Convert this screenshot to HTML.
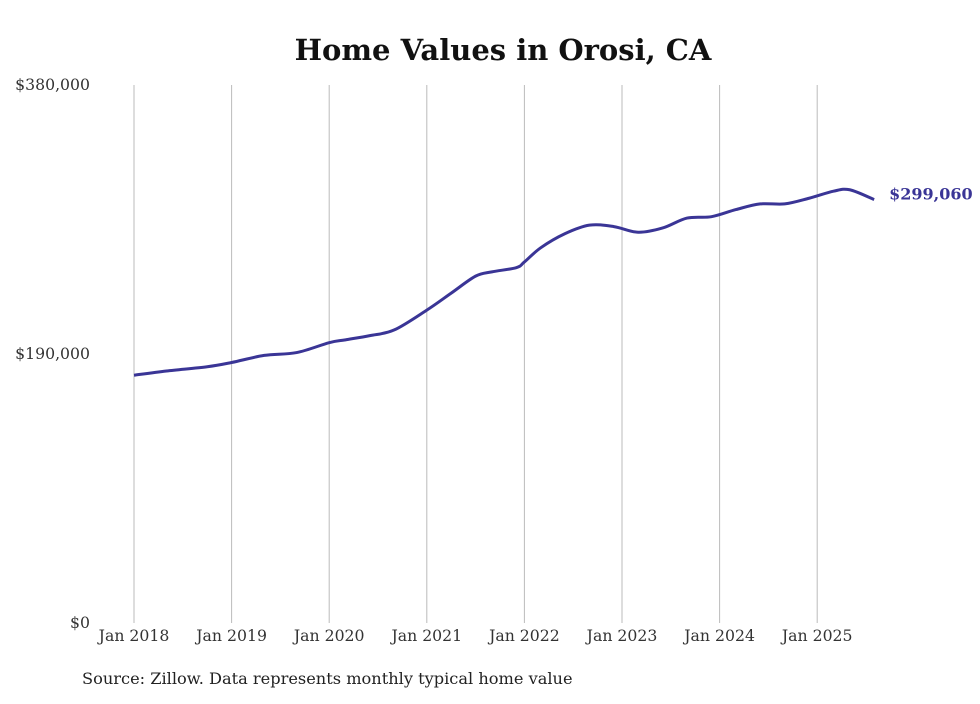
<!DOCTYPE html>
<html><head><meta charset="utf-8"><style>
body{margin:0;background:#fff;width:980px;height:699px;overflow:hidden;}
svg text{font-family:"DejaVu Serif","Liberation Serif",serif;}
</style></head><body>
<svg width="980" height="699">
<text x="503" y="60" text-anchor="middle" font-size="29" font-weight="bold" fill="#111">Home Values in Orosi, CA</text>
<g id="grid"></g>
<g id="yt"></g>
<g id="xt"></g>
<path id="line" fill="none" stroke="#3a3596" stroke-width="3"/>
<text id="lastlbl" font-size="16" font-weight="bold" fill="#3a3596"></text>
<text x="82" y="684" font-size="16.2" fill="#222">Source: Zillow. Data represents monthly typical home value</text>
</svg>
<script>
const dates=["2018-01","2018-05","2018-10","2019-01","2019-05","2019-09","2020-01","2020-03","2020-06","2020-09","2021-01","2021-04","2021-07","2021-09","2021-12","2022-01","2022-03","2022-06","2022-09","2022-12","2023-03","2023-06","2023-09","2023-12","2024-03","2024-06","2024-09","2024-12","2025-03","2025-05","2025-08"];
const values=[175000,178000,181000,184000,189000,191000,198000,200000,203000,207000,221000,233000,245000,248000,251000,255000,265000,275000,281000,280000,276000,279000,286000,287000,292000,296000,296000,300000,305000,306000,299060];
const yTicks=[0,190000,380000];
const yLabels=["$0","$190,000","$380,000"];
const xYears=[2018,2019,2020,2021,2022,2023,2024,2025];
const NS="http://www.w3.org/2000/svg";
function x(t){return 134+(t-2018)*97.6;}
function y(v){return 623-v/380000*538;}
function tm(d){const[a,b]=d.split("-").map(Number);return a+(b-1)/12;}
const grid=document.getElementById("grid"),xt=document.getElementById("xt"),yt=document.getElementById("yt");
xYears.forEach(yr=>{
 const l=document.createElementNS(NS,"line");
 
 
 l.setAttribute("x1",x(yr));l.setAttribute("x2",x(yr));l.setAttribute("y1",85);l.setAttribute("y2",623);
 l.setAttribute("stroke","#bbb");l.setAttribute("stroke-width","1");grid.appendChild(l);
 const t=document.createElementNS(NS,"text");
 
 
 t.setAttribute("x",x(yr));t.setAttribute("y",641);t.setAttribute("text-anchor","middle");t.setAttribute("font-size","15.7");t.setAttribute("fill","#333");
 t.textContent="Jan "+yr;xt.appendChild(t);
});
yTicks.forEach((v,i)=>{
 const t=document.createElementNS(NS,"text");
 
 
 t.setAttribute("x",90);t.setAttribute("y",y(v)+5);t.setAttribute("text-anchor","end");t.setAttribute("font-size","15.7");t.setAttribute("fill","#333");
 t.textContent=yLabels[i];yt.appendChild(t);
});
const pts=dates.map((d,i)=>[x(tm(d)),y(values[i])]);
let p="M"+pts[0][0]+","+pts[0][1];
for(let i=0;i<pts.length-1;i++){
 const p0=pts[Math.max(0,i-1)],p1=pts[i],p2=pts[i+1],p3=pts[Math.min(pts.length-1,i+2)];
 const c1=[p1[0]+(p2[0]-p0[0])/6,p1[1]+(p2[1]-p0[1])/6],c2=[p2[0]-(p3[0]-p1[0])/6,p2[1]-(p3[1]-p1[1])/6];
 p+=" C"+c1+" "+c2+" "+p2;
}
document.getElementById("line").setAttribute("d",p);
const last=pts[pts.length-1],lb=document.getElementById("lastlbl");
lb.setAttribute("x",last[0]+15);lb.setAttribute("y",last[1]);
lb.textContent="$"+values[values.length-1].toLocaleString("en-US");
</script>
</body></html>
